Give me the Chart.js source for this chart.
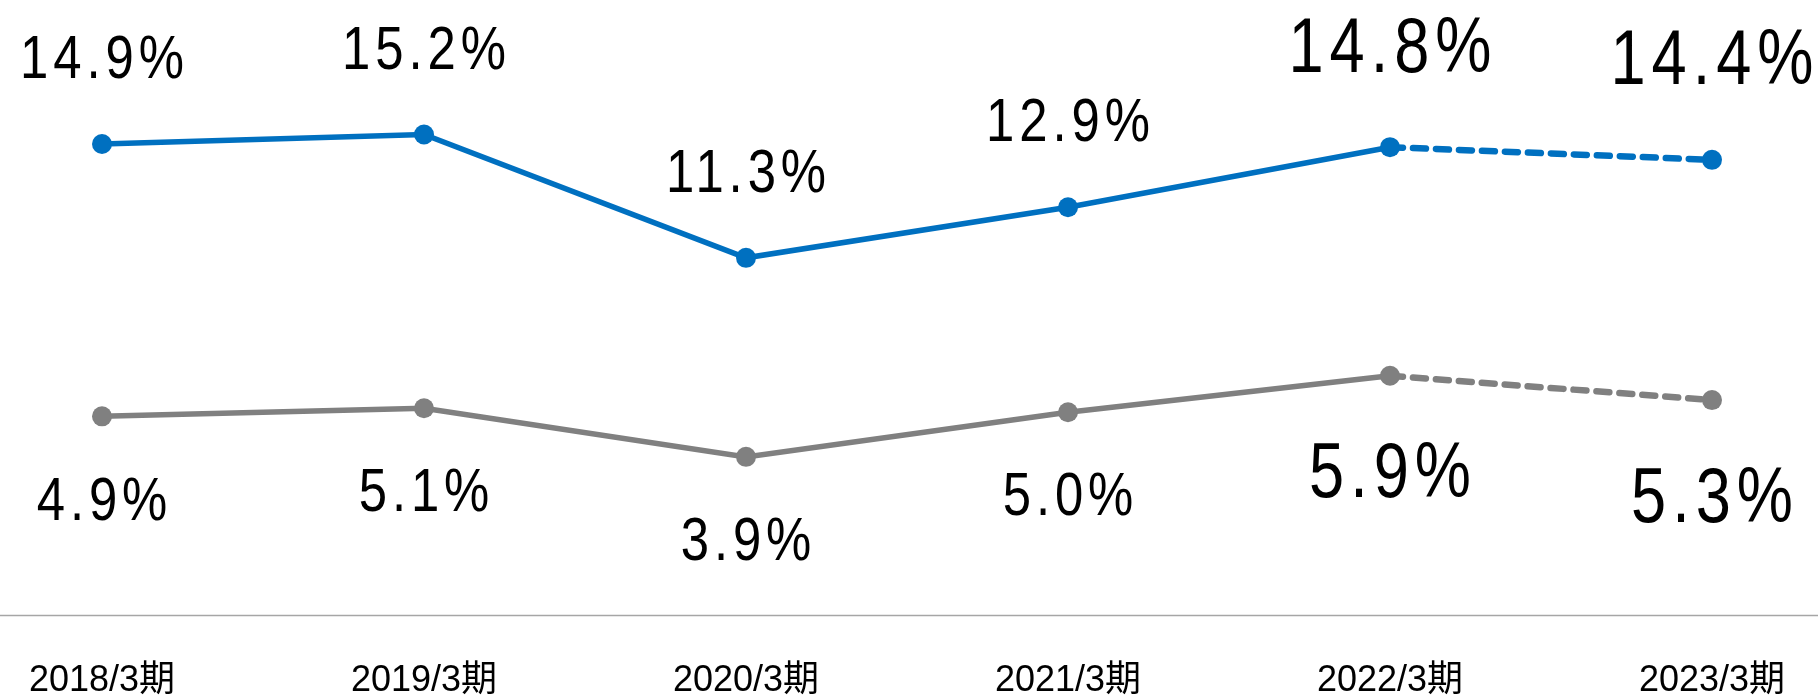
<!DOCTYPE html>
<html>
<head>
<meta charset="utf-8">
<script src="https://cdn.jsdelivr.net/npm/chart.js@4.4.1/dist/chart.umd.min.js"></script>
<style>
  html, body { margin: 0; padding: 0; background: #ffffff; }
  #wrap { width: 1818px; height: 699px; position: relative; }
</style>
</head>
<body>
<div id="wrap"><canvas id="c"></canvas></div>
<script>
const categories = ['2018/3期', '2019/3期', '2020/3期', '2021/3期', '2022/3期', '2023/3期'];
const blueValues = [14.9, 15.2, 11.3, 12.9, 14.8, 14.4];
const grayValues = [4.9, 5.1, 3.9, 5.0, 5.9, 5.3];

const FONT = "'Liberation Sans', Arial, 'Noto Sans CJK JP', sans-serif";

// label styling (not data)
const labelStyle = {
  0: { small: { size: 62, spacing: 6, offset: -88 }, large: { size: 77, spacing: 7.3, offset: -103 } },
  1: { small: { size: 62, spacing: 6, offset: 81 }, large: { size: 77, spacing: 7.3, offset: 94 } }
};
const largeIdx = [4, 5];
const condense = 0.82;

const valueLabels = {
  id: 'valueLabels',
  afterDatasetsDraw(chart) {
    const ctx = chart.ctx;
    chart.data.datasets.forEach((ds, di) => {
      const meta = chart.getDatasetMeta(di);
      meta.data.forEach((pt, i) => {
        const st = largeIdx.includes(i) ? labelStyle[di].large : labelStyle[di].small;
        const txt = ds.data[i].toFixed(1) + '%';
        ctx.save();
        ctx.font = st.size + 'px ' + FONT;
        ctx.fillStyle = '#000000';
        ctx.letterSpacing = st.spacing + 'px';
        ctx.textAlign = 'left';
        ctx.textBaseline = 'alphabetic';
        const w = (ctx.measureText(txt).width - st.spacing) * condense;
        const cy = pt.y + st.offset;
        ctx.translate(pt.x - w / 2, cy + st.size * 0.358);
        ctx.scale(condense, 1);
        ctx.fillText(txt, 0, 0);
        ctx.restore();
      });
    });
  }
};

const axisLine = {
  id: 'axisLine',
  afterDraw(chart) {
    const ctx = chart.ctx;
    const y = Math.round(chart.scales.x.top) + 0.5;
    ctx.save();
    ctx.strokeStyle = '#a6a6a6';
    ctx.lineWidth = 1.5;
    ctx.beginPath();
    ctx.moveTo(0, y);
    ctx.lineTo(chart.width, y);
    ctx.stroke();
    ctx.restore();
  }
};

const dashAfter = (ctx) => ctx.p0DataIndex >= 4 ? [13, 10] : undefined;
const widthAfter = (w) => (ctx) => ctx.p0DataIndex >= 4 ? w + 1 : undefined;

new Chart(document.getElementById('c'), {
  type: 'line',
  data: {
    labels: categories,
    datasets: [
      {
        data: blueValues,
        yAxisID: 'y',
        borderColor: '#0070C0',
        backgroundColor: '#0070C0',
        borderWidth: 5.5,
        borderCapStyle: 'round',
        pointRadius: 10,
        pointHoverRadius: 10,
        pointBorderWidth: 0,
        pointBackgroundColor: '#0070C0',
        tension: 0,
        segment: { borderDash: dashAfter, borderWidth: widthAfter(5.5) }
      },
      {
        data: grayValues,
        yAxisID: 'y2',
        borderColor: '#808080',
        backgroundColor: '#808080',
        borderWidth: 5.5,
        borderCapStyle: 'round',
        pointRadius: 10,
        pointHoverRadius: 10,
        pointBorderWidth: 0,
        pointBackgroundColor: '#808080',
        tension: 0,
        segment: { borderDash: dashAfter, borderWidth: widthAfter(5.5) }
      }
    ]
  },
  options: {
    responsive: true,
    maintainAspectRatio: false,
    animation: false,
    layout: { padding: { left: 102, right: 106, top: 0, bottom: 0 } },
    plugins: { legend: { display: false }, tooltip: { enabled: false }, title: { display: false } },
    scales: {
      x: {
        type: 'category',
        offset: false,
        grid: { display: false, drawTicks: false },
        border: { display: false },
        ticks: {
          color: '#000000',
          padding: 48,
          font: { family: FONT, size: 36, lineHeight: 1 },
          maxRotation: 0,
          autoSkip: false
        },
        afterFit(scale) {
          scale.height = 84;
          scale.paddingLeft = 0;
          scale.paddingRight = 0;
        }
      },
      y: { display: false, min: 0, max: 19.14 },
      y2: { display: false, min: 0, max: 14.92 }
    }
  },
  plugins: [valueLabels, axisLine]
});
</script>
</body>
</html>
